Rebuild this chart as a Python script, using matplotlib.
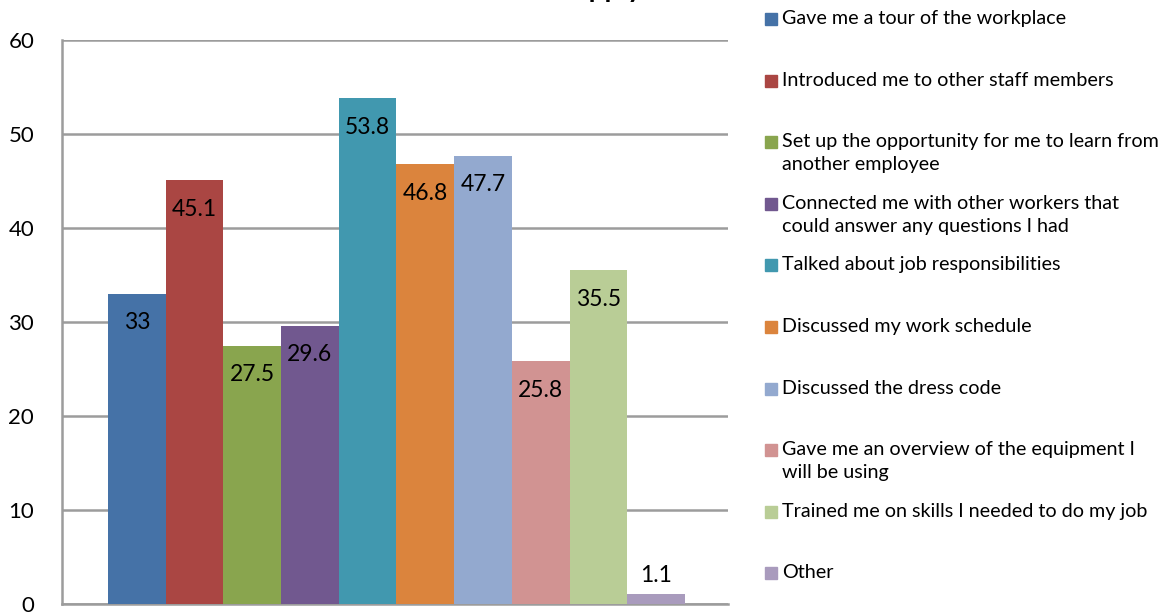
import numpy as np
import matplotlib.pyplot as plt
from matplotlib.patches import Rectangle

plt.rcParams['font.family'] = ['Lato', 'DejaVu Sans']

# Survey responses (percent)
categories = [
    "Gave me a tour of the workplace",
    "Introduced me to other staff members",
    "Set up the opportunity for me to learn from\nanother employee",
    "Connected me with other workers that\ncould answer any questions I had",
    "Talked about job responsibilities",
    "Discussed my work schedule",
    "Discussed the dress code",
    "Gave me an overview of the equipment I\nwill be using",
    "Trained me on skills I needed to do my job",
    "Other",
]
values = [33, 45.1, 27.5, 29.6, 53.8, 46.8, 47.7, 25.8, 35.5, 1.1]
colors = ['#4572A7', '#AA4643', '#89A54E', '#71588F', '#4198AF',
          '#DB843D', '#93A9CF', '#D19392', '#B9CD96', '#A99BBD']
yticks = [0, 10, 20, 30, 40, 50, 60]

W, H = 1164, 614
fig = plt.figure(figsize=(W / 100, H / 100), dpi=100)
ax = fig.add_axes([62 / W, 1 - 604 / H, (728 - 62) / W, (604 - 40) / H])

x = np.arange(len(values))
bars = ax.bar(x, values, width=1.0, color=colors, zorder=3)

ax.set_xlim(-1.297, len(values) - 0.5 + 0.746)
ax.set_ylim(0, 60)
ax.set_yticks(yticks)
ax.set_xticks([])
ax.yaxis.grid(True, color='#9c9c9c', linewidth=1.8, zorder=0)
ax.tick_params(axis='y', length=0, pad=20, labelsize=16)
for s in ['top', 'right']:
    ax.spines[s].set_visible(False)
for s in ['left', 'bottom']:
    ax.spines[s].set_color('#9c9c9c')
    ax.spines[s].set_linewidth(1.8)

# data labels: inside end, except tiny bar goes above
for xi, v in zip(x, values):
    if v > 5:
        ax.annotate(f"{v:g}", (xi, v), xytext=(0, -21), textcoords='offset points',
                    ha='center', va='center', fontsize=16.5, zorder=4)
    else:
        ax.annotate(f"{v:g}", (xi, v), xytext=(0, 13), textcoords='offset points',
                    ha='center', va='center', fontsize=16.5, zorder=4)

# title, mostly cut off at the top edge (as in the source image)
fig.text(642 / W, 1 + 3 / H, "Check all that apply", ha='right', va='baseline',
         fontsize=20, fontweight='bold')

# legend drawn by hand to keep the evenly spaced slots
for i, (lab, c) in enumerate(zip(categories, colors)):
    yc = 19 + 61.6 * i
    fig.patches.append(Rectangle((765 / W, 1 - (yc + 6) / H), 12 / W, 12 / H,
                                 transform=fig.transFigure, color=c))
    fig.text(782 / W, 1 - (yc - 9) / H, lab, ha='left', va='top',
             fontsize=14.2, linespacing=1.42)

fig.savefig('out.png', dpi=100)
